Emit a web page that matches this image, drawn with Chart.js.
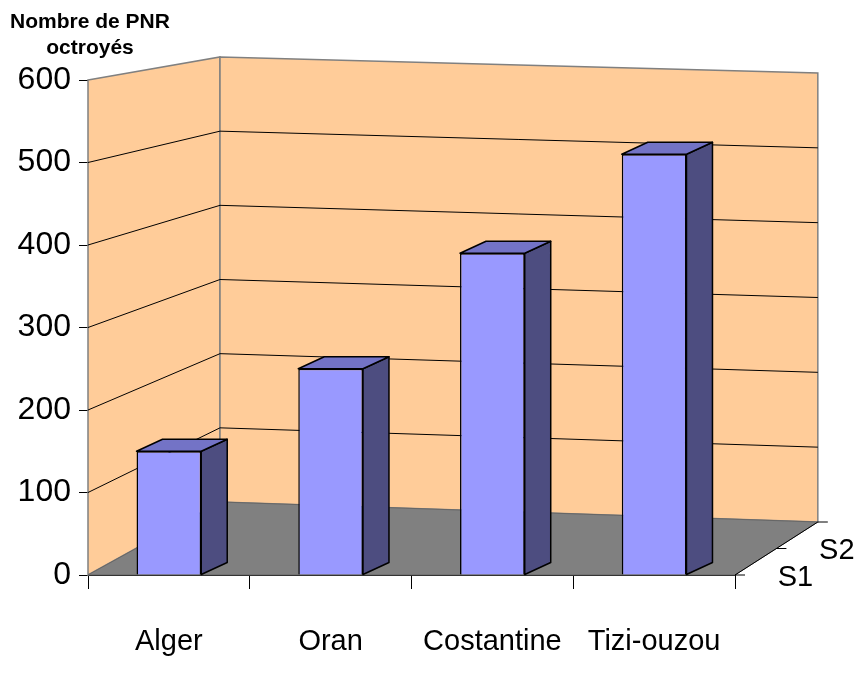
<!DOCTYPE html>
<html>
<head>
<meta charset="utf-8">
<script src="https://cdn.jsdelivr.net/npm/chart.js@4/dist/chart.umd.min.js"></script>
<style>
  html, body { margin: 0; padding: 0; background: #fff; }
  #wrap { width: 867px; height: 692px; }
</style>
</head>
<body>
<div id="wrap"><canvas id="pnrChart"></canvas></div>
<script>
"use strict";

var categories = ["Alger", "Oran", "Costantine", "Tizi-ouzou"];
var pnrValues = [150, 250, 390, 510];
var depthLabels = ["S1", "S2"];
var yMax = 600;
var yStep = 100;
var titleLines = ["Nombre de PNR", "octroyés"];

var WALL = "#ffcc99";
var FLOOR = "#808080";
var BAR_FRONT = "#9999ff";
var BAR_TOP = "#7373c6";
var BAR_SIDE = "#4d4d80";
var FONT = "'Liberation Sans', Arial, sans-serif";

// back wall placement relative to the front plane
var BACK = { dx: 132, dy: -23, kx: 0.924, ky: 0.899, shearTop: 16, shearBottom: 20 };
var BAR_DEPTH = { dx: 26, dy: -12 };

function toBack(area, x, y, d) {
  var bx = area.left + BACK.dx + (x - area.left) * BACK.kx;
  var by = area.top + BACK.dy + (y - area.top) * BACK.ky;
  var t = (y - area.top) / (area.bottom - area.top);
  var shear = BACK.shearTop + (BACK.shearBottom - BACK.shearTop) * t;
  by += ((x - area.left) / (area.right - area.left)) * shear;
  return { x: x + (bx - x) * d, y: y + (by - y) * d };
}

function poly(ctx, pts, fill, stroke, lw) {
  ctx.beginPath();
  ctx.moveTo(pts[0].x, pts[0].y);
  for (var i = 1; i < pts.length; i++) ctx.lineTo(pts[i].x, pts[i].y);
  ctx.closePath();
  if (fill) { ctx.fillStyle = fill; ctx.fill(); }
  if (stroke) { ctx.strokeStyle = stroke; ctx.lineWidth = lw || 1; ctx.stroke(); }
}

var walls3d = {
  id: "walls3d",
  beforeDatasetsDraw: function (chart) {
    var ctx = chart.ctx;
    var a = chart.chartArea;
    var ys = chart.scales.y;
    var fl = { x: a.left, y: a.top }, fb = { x: a.left, y: a.bottom };
    var fr = { x: a.right, y: a.bottom };
    var bl = toBack(a, a.left, a.top, 1), blb = toBack(a, a.left, a.bottom, 1);
    var br = toBack(a, a.right, a.top, 1), brb = toBack(a, a.right, a.bottom, 1);
    ctx.save();
    // left wall, back wall, floor
    poly(ctx, [fl, bl, blb, fb], WALL, "#808080", 1.5);
    poly(ctx, [bl, br, brb, blb], WALL, "#808080", 1.5);
    poly(ctx, [fb, blb, brb, fr], FLOOR, "#666", 1);
    // grid lines on both walls
    ctx.strokeStyle = "#000";
    ctx.lineWidth = 1;
    for (var v = yStep; v < yMax; v += yStep) {
      var y = ys.getPixelForValue(v);
      var p0 = toBack(a, a.left, y, 1), p1 = toBack(a, a.right, y, 1);
      ctx.beginPath();
      ctx.moveTo(a.left, y);
      ctx.lineTo(p0.x, p0.y);
      ctx.lineTo(p1.x, p1.y);
      ctx.stroke();
    }
    // depth axis with S1 / S2
    ctx.beginPath();
    ctx.moveTo(fr.x, fr.y);
    ctx.lineTo(brb.x, brb.y);
    [0, 0.5, 1].forEach(function (d) {
      var p = toBack(a, a.right, a.bottom, d);
      ctx.moveTo(p.x, p.y);
      ctx.lineTo(p.x + 10, p.y);
    });
    ctx.stroke();
    ctx.fillStyle = "#000";
    ctx.font = "29px " + FONT;
    ctx.textAlign = "left";
    ctx.textBaseline = "middle";
    depthLabels.forEach(function (lab, i) {
      var p = toBack(a, a.right, a.bottom, 0.25 + 0.5 * i);
      ctx.fillText(lab, p.x + 22, p.y + 16);
    });
    // axis title
    ctx.font = "bold 21px " + FONT;
    ctx.textAlign = "center";
    titleLines.forEach(function (line, i) {
      ctx.fillText(line, a.left + 2, 22 + i * 26);
    });
    ctx.restore();
  },
  afterDatasetsDraw: function (chart) {
    var ctx = chart.ctx;
    chart.getDatasetMeta(0).data.forEach(function (bar) {
      var x1 = bar.x - bar.width / 2, x2 = bar.x + bar.width / 2;
      var top = bar.y, bot = bar.base;
      var dx = BAR_DEPTH.dx, dy = BAR_DEPTH.dy;
      ctx.save();
      ctx.lineJoin = "round";
      poly(ctx, [{ x: x2, y: top }, { x: x2 + dx, y: top + dy }, { x: x2 + dx, y: bot + dy }, { x: x2, y: bot }], BAR_SIDE, "#000", 1.5);
      poly(ctx, [{ x: x1, y: top }, { x: x1 + dx, y: top + dy }, { x: x2 + dx, y: top + dy }, { x: x2, y: top }], BAR_TOP, "#000", 1.5);
      ctx.restore();
    });
  },
};

new Chart(document.getElementById("pnrChart"), {
  type: "bar",
  data: {
    labels: categories,
    datasets: [
      {
        label: "S1",
        data: pnrValues,
        backgroundColor: BAR_FRONT,
        borderColor: "#000",
        borderWidth: 1.5,
        barPercentage: 0.4,
        categoryPercentage: 1,
      },
    ],
  },
  options: {
    responsive: true,
    maintainAspectRatio: false,
    animation: false,
    layout: { padding: { top: 80, right: 132, left: 0, bottom: 0 } },
    plugins: {
      legend: { display: false },
      tooltip: { enabled: false },
    },
    scales: {
      x: {
        afterFit: function (scale) { scale.height = 117; },
        grid: { offset: true, drawOnChartArea: false, tickLength: 14, color: "#000" },
        border: { color: "#000" },
        ticks: {
          padding: 36,
          color: "#000",
          font: { family: FONT, size: 29 },
        },
      },
      y: {
        min: 0,
        max: yMax,
        afterFit: function (scale) { scale.width = 88; },
        grid: { drawOnChartArea: false, tickLength: 9, color: "#000" },
        border: { color: "#000" },
        ticks: {
          stepSize: yStep,
          padding: 8,
          color: "#000",
          font: { family: FONT, size: 32 },
        },
      },
    },
  },
  plugins: [walls3d],
});
</script>
</body>
</html>
